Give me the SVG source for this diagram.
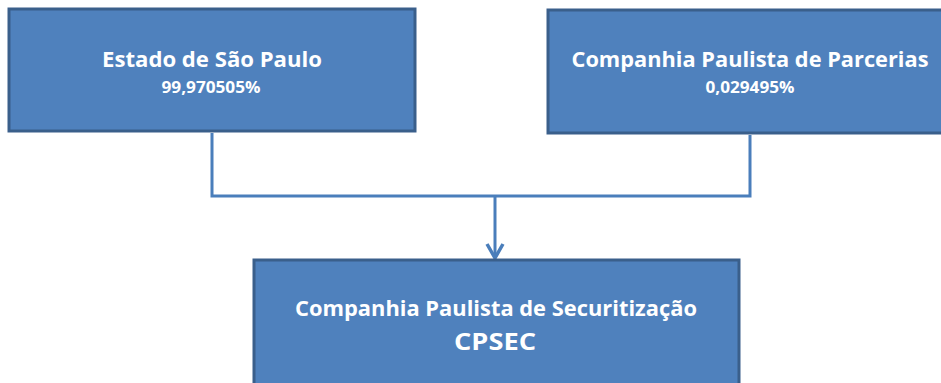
<svg xmlns="http://www.w3.org/2000/svg" width="941" height="383" viewBox="0 0 941 383">
<style>
.box{fill:#4F81BD;stroke:#3A5F8B;stroke-width:3}
.t{font-family:"Open Sans","Liberation Sans",sans-serif;font-weight:bold;fill:#FFFFFF;text-anchor:middle}
.big{font-size:21px}
.small{font-size:16px}
.conn{fill:none;stroke:#4A7EBB;stroke-width:3}
</style>
<g id="connectors">
<path class="conn" d="M212,133 V196 H750 V135"/>
<path class="conn" d="M495,196 V258"/>
<path d="M487,244 L495,258 L503,244" fill="none" stroke="#4A7EBB" stroke-width="3.5"/>
</g>
<g id="estado">
<rect class="box" x="9" y="9" width="406" height="122"/>
<text class="t big" x="212" y="67" textLength="220" lengthAdjust="spacingAndGlyphs">Estado de São Paulo</text>
<text class="t small" x="211" y="93" textLength="99" lengthAdjust="spacingAndGlyphs">99,970505%</text>
</g>
<g id="parcerias">
<rect class="box" x="548" y="10" width="410" height="123"/>
<text class="t big" x="750" y="67" textLength="357" lengthAdjust="spacingAndGlyphs">Companhia Paulista de Parcerias</text>
<text class="t small" x="750" y="93" textLength="89" lengthAdjust="spacingAndGlyphs">0,029495%</text>
</g>
<g id="cpsec">
<rect class="box" x="254" y="260" width="485" height="140"/>
<text class="t big" x="496" y="316" textLength="402" lengthAdjust="spacingAndGlyphs">Companhia Paulista de Securitização</text>
<text class="t" x="495" y="350" font-size="23" textLength="82" lengthAdjust="spacingAndGlyphs">CPSEC</text>
</g>
</svg>
